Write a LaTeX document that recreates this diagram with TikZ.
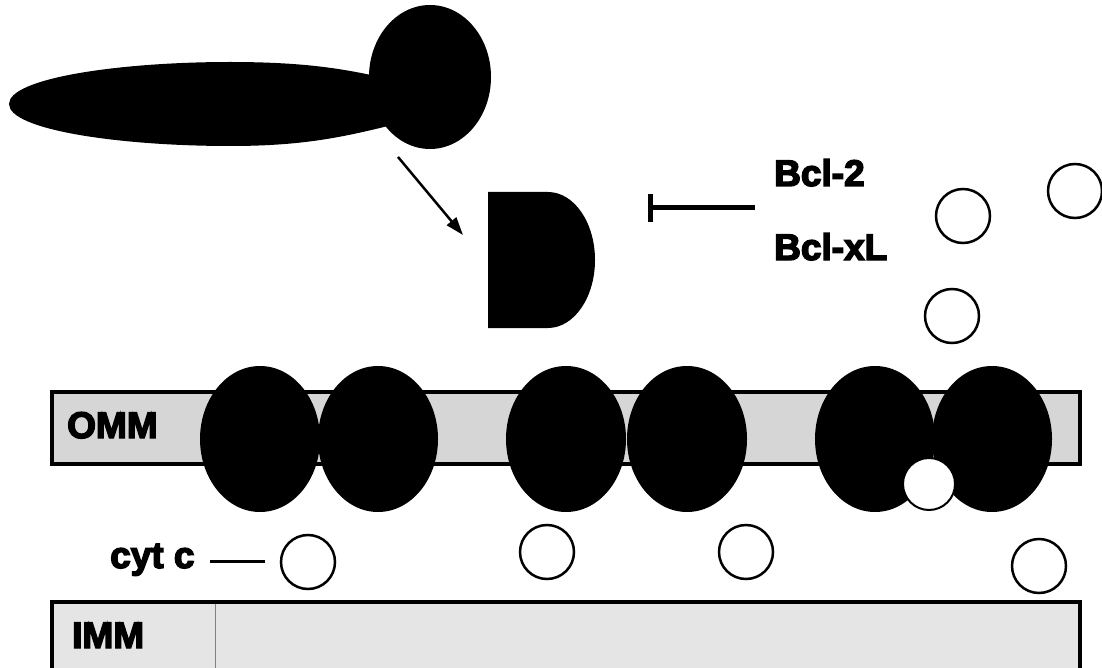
\documentclass[tikz,border=0pt]{standalone}
\usepackage{fontspec}
\usetikzlibrary{shapes.geometric,arrows.meta}
\newfontfamily\labfont[FakeBold=4]{Liberation Sans Bold}
\begin{document}
\begin{tikzpicture}[x=1pt,y=-1pt,
  lbl/.style={inner sep=0pt, font=\labfont\fontsize{37}{42}\selectfont},
  membrane/.style={draw=black, line width=4pt, fill=black!16},
  protein/.style={ellipse, fill=black, inner sep=0pt, minimum width=120pt, minimum height=146pt},
  cytc/.style={circle, draw=black, line width=2.5pt, fill=white, inner sep=0pt, minimum size=54pt},
  blob/.style={fill=black}]
\useasboundingbox (0,0) rectangle (1102,668);

% elongated body with round head
\fill[blob] (9,104) .. controls (9,78) and (120,62) .. (230,62)
  .. controls (300,62) and (340,68) .. (380,77)
  -- (392,125)
  .. controls (340,138) and (300,146) .. (230,146)
  .. controls (120,146) and (9,130) .. (9,104) -- cycle;
\node[ellipse, fill=black, inner sep=0pt, minimum width=122pt, minimum height=144pt] (head) at (430,77) {};

% activation arrow
\coordinate (arrS) at (398,157);
\coordinate (arrE) at (463,235);
\draw[line width=2.5pt, -{Triangle[length=18pt,width=12pt]}] (arrS) -- (arrE);

% D-shaped molecule
\fill[blob] (488,192) -- (548,192) arc[start angle=-90, end angle=90, x radius=47, y radius=68] -- (488,328) -- cycle;
\coordinate (dshape) at (540,260);

% inhibition bar
\coordinate (inhS) at (755,208);
\coordinate (inhE) at (648,208);
\draw[line width=5pt, -{Bar[width=28pt,line width=5pt]}] (inhS) -- (inhE);
\node[lbl, anchor=base west] (bcl2) at (774,186) {Bcl-2};
\node[lbl, anchor=base west] (bclxl) at (774,260) {Bcl-xL};

% released cytochrome c
\node[cytc] (r1) at (963,216) {};
\node[cytc] (r2) at (1075,191) {};
\node[cytc] (r3) at (952,316) {};

% outer mitochondrial membrane
\draw[membrane] (52,392) rectangle (1080,464);
\node[lbl, anchor=base west] (omm) at (67,438) {OMM};

% pore-forming proteins
\node[protein] (p1) at (260,439) {};
\node[protein] (p2) at (378,439) {};
\node[protein] (p3) at (566,439) {};
\node[protein] (p4) at (687,439) {};
\node[protein] (p5) at (875,439) {};
\node[protein] (p6) at (992,439) {};
\node[circle, draw=black, line width=2pt, fill=white, inner sep=0pt, minimum size=52pt] (pore) at (929,484) {};

% intermembrane cytochrome c
\node[lbl, anchor=base west] (cytlbl) at (110,568) {cyt c};
\node[cytc] (c1) at (308,562) {};
\coordinate (dashS) at (210,561);
\coordinate (dashE) at (265,561);
\draw[line width=3pt] (dashS) -- (dashE);
\node[cytc] (c2) at (547,552) {};
\node[cytc] (c3) at (746,552) {};
\node[cytc] (c4) at (1039,566) {};

% inner mitochondrial membrane
\draw[membrane, fill=black!10] (52,602) rectangle (1080,690);
\draw[black!50, line width=0.8pt] (215,604) -- (215,668);
\node[lbl, anchor=base west] (imm) at (72,648) {IMM};
\end{tikzpicture}
\end{document}
